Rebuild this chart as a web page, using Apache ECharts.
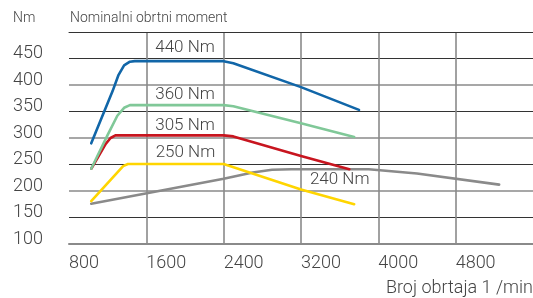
<!DOCTYPE html>
<html>
<head>
<meta charset="utf-8">
<script src="https://cdn.jsdelivr.net/npm/echarts@6/dist/echarts.min.js"></script>
<style>
html, body { margin: 0; padding: 0; background: #fff; }
#chart { width: 533px; height: 298px; }
</style>
</head>
<body>
<div id="chart"></div>
<script>
// torque curves, [rpm, Nm]
const curve440 = [[1030, 290], [1250, 388], [1310, 418], [1370, 437], [1430, 444], [1480, 445], [2400, 445], [2500, 441], [3200, 396], [3800, 353]]
const curve360 = [[1030, 242], [1200, 306], [1300, 342], [1370, 357], [1430, 362], [1480, 362], [2400, 362], [2500, 360], [3200, 328], [3750, 302]]
const curve305 = [[1030, 242], [1180, 289], [1230, 300], [1280, 305], [2400, 305], [2500, 303], [3200, 266], [3700, 241]]
const curve250 = [[1030, 181], [1360, 247], [1410, 251], [2400, 251], [3200, 203], [3750, 175]]
const curve240 = [[1030, 176], [2400, 223], [2700, 235], [2900, 240], [3100, 241], [3900, 241], [4400, 233], [5250, 212]]

const seriesNames = ['440 Nm', '360 Nm', '305 Nm', '250 Nm', '240 Nm']
const seriesData = [curve440, curve360, curve305, curve250, curve240]
const seriesColors = ['#1166a8', '#80c898', '#c8151f', '#ffd500', '#8a8a8a']
// where each curve's name sits, [rpm, Nm]
const labelAt = [[2000, 471], [2000, 382], [2000, 323], [2005, 272], [3600, 221]]

const yTicksMin = 100
const yTicksMax = 500
const xMin = 800
const xMax = 5600

const FONT = 'Roboto'
const TXT = '#444'

const chart = echarts.init(document.getElementById('chart'))

const series = seriesData.map((d, i) => ({
    name: seriesNames[i],
    type: 'line',
    data: d,
    symbol: 'none',
    smooth: false,
    lineStyle: { color: seriesColors[i], width: 2.6, cap: 'round', join: 'round' },
    z: 10 - i,
    markPoint: {
        symbol: 'circle',
        symbolSize: 0,
        data: [{ coord: labelAt[i], value: seriesNames[i] }],
        label: {
            show: true,
            position: 'inside',
            formatter: seriesNames[i],
            color: TXT,
            fontFamily: FONT,
            fontWeight: 300,
            fontSize: 17,
        },
    },
}))

chart.setOption({
    animation: false,
    grid: { left: 69, right: 0, top: 32, bottom: 54 },
    xAxis: [
        {
            type: 'value',
            min: xMin,
            max: xMax,
            interval: 800,
            axisLine: { show: true, lineStyle: { color: '#8a8a8a', width: 2 } },
            axisTick: { show: false },
            axisLabel: {
                color: TXT,
                fontFamily: FONT,
                fontWeight: 300,
                fontSize: 18,
                align: 'left',
                verticalAlign: 'middle',
                margin: 19,
                showMaxLabel: false,
                formatter: v => (v >= xMax ? '' : String(v)),
            },
            splitLine: {
                show: true,
                showMinLine: false,
                showMaxLine: false,
                lineStyle: { color: '#8a8a8a', width: 1.6 },
            },
        },
        {
            type: 'value',
            position: 'top',
            min: xMin,
            max: xMax,
            interval: 800,
            axisLine: { show: true, lineStyle: { color: '#333', width: 1 } },
            axisTick: { show: false },
            axisLabel: { show: false },
            splitLine: { show: false },
        },
    ],
    yAxis: [
        {
            type: 'value',
            min: yTicksMin,
            max: yTicksMax,
            interval: 50,
            axisLine: { show: false },
            axisTick: { show: false },
            axisLabel: {
                color: TXT,
                fontFamily: FONT,
                fontWeight: 300,
                fontSize: 18,
                margin: 26,
                verticalAlign: 'bottom',
                lineHeight: 10,
                formatter: v => (v >= yTicksMax ? '' : String(v)),
            },
            splitLine: {
                show: true,
                showMaxLine: false,
                lineStyle: { color: ['transparent', '#333'], width: 1 },
            },
        },
        {
            type: 'value',
            min: yTicksMin,
            max: yTicksMax,
            interval: 100,
            axisLine: { show: false },
            axisTick: { show: false },
            axisLabel: { show: false },
            splitLine: {
                show: true,
                showMinLine: false,
                showMaxLine: false,
                lineStyle: { color: '#8a8a8a', width: 1.6 },
            },
        },
    ],
    graphic: [
        {
            type: 'text',
            left: 13,
            top: 11,
            style: { text: 'Nm', fill: TXT, font: '300 14px Roboto' },
        },
        {
            type: 'text',
            left: 70,
            top: 11,
            style: { text: 'Nominalni obrtni moment', fill: TXT, font: '300 14px Roboto' },
        },
        {
            type: 'text',
            right: 0,
            top: 279,
            style: { text: 'Broj obrtaja 1 /min', fill: TXT, font: '300 18px Roboto' },
        },
    ],
    series: series,
})
</script>
</body>
</html>
